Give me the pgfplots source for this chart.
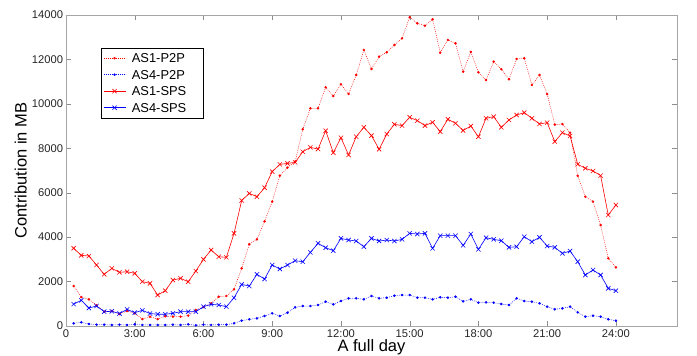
\documentclass[border=0pt]{standalone}
\usepackage{fontspec}
\setmainfont{Liberation Sans}
\usepackage{pgfplots}
\pgfplotsset{compat=1.18}
\pgfplotstableread{
i as1p2p as4p2p as1sps as4sps
1 1800 120 3500 985
2 1300 165 3180 1155
3 1200 90 3150 810
4 930 60 2745 900
5 645 60 2325 645
6 675 45 2595 660
7 540 60 2415 560
8 675 45 2445 750
9 570 75 2370 600
10 310 45 1995 705
11 420 45 1920 560
12 310 45 1395 530
13 440 45 1590 530
14 420 60 2070 570
15 420 45 2145 645
16 470 75 1995 645
17 720 30 2475 645
18 850 60 3000 870
19 1020 45 3420 975
20 1320 60 3120 945
21 1350 60 3090 870
22 1650 120 4170 1270
23 2595 240 5650 1870
24 3680 300 5970 1800
25 3900 345 5820 2325
26 4710 450 6225 2115
27 5600 570 6950 2745
28 6770 450 7275 2565
29 7130 600 7320 2745
30 7400 840 7365 2940
31 8855 900 7845 2895
32 9800 900 8040 3315
33 9800 945 7965 3720
34 10745 1095 8790 3525
35 10355 975 7800 3390
36 10880 1125 8475 3945
37 10445 1245 7700 3870
38 11300 1245 8520 3825
39 12425 1200 8945 3570
40 11570 1350 8570 3945
41 12125 1245 7955 3825
42 12320 1275 8640 3870
43 12650 1365 9080 3825
44 12950 1395 9020 3900
45 13900 1395 9395 4170
46 13625 1275 9245 4140
47 13520 1275 9020 4170
48 13805 1200 9170 3495
49 12305 1290 8750 4065
50 12875 1275 9305 4065
51 12725 1320 9125 4065
52 11450 1110 8800 3630
53 12340 1200 9000 4140
54 11420 1050 8520 3450
55 11075 1065 9350 3975
56 11900 1050 9425 3900
57 11560 990 8945 3840
58 11105 945 9275 3540
59 12020 1245 9500 3570
60 12050 1125 9605 4020
61 10850 1095 9350 3795
62 11300 1020 9095 3990
63 10440 870 9155 3600
64 9065 750 8300 3540
65 9090 795 8705 3270
66 8700 870 8555 3375
67 6760 615 7280 2895
68 5820 420 7100 2295
69 5600 465 6980 2520
70 4545 420 6770 2295
71 3045 300 4995 1695
72 2640 240 5445 1590
}\datatable
\begin{document}
\begin{tikzpicture}
\begin{axis}[
  scale only axis, width=611pt, height=311pt,
  xmin=0, xmax=80, ymin=0, ymax=14000,
  xtick={0,9,18,27,36,45,54,63,72},
  xticklabels={0,3:00,6:00,9:00,12:00,15:00,18:00,21:00,24:00},
  ytick={0,2000,4000,6000,8000,10000,12000,14000},
  scaled y ticks=false,
  /pgf/number format/1000 sep={},
  /pgf/number format/assume math mode=true,
  tick label style={font=\fontsize{11.2}{13}\selectfont, text=black!85},
  yticklabel style={inner xsep=2.7pt},
  xticklabel style={inner ysep=3pt},
  axis line style={black!35, line width=0.8pt},
  major tick style={black!45},
  major tick length=5pt,
  tick align=inside,
  xlabel={A full day}, ylabel={Contribution in MB},
  label style={font=\fontsize{16.5}{19}\selectfont},
  xlabel style={at={(axis description cs:0.5,-0.0836)}, anchor=base},
  ylabel style={at={(axis description cs:-0.0646,0.5)}, anchor=base},
  legend image code/.code={\draw[mark repeat=2,mark phase=2] plot coordinates {(0pt,0pt)(11pt,0pt)(22pt,0pt)};},
  legend cell align=left,
  legend style={at={(axis description cs:0.0568,0.8949)}, anchor=north west,
    draw=black, fill=white, line width=0.5pt,
    inner xsep=2.3pt, inner ysep=2pt,
    font=\fontsize{12.9}{15}\selectfont,
    nodes={inner xsep=0pt, inner ysep=3.75pt, text depth=0pt},
    column sep=6pt, row sep=0pt},
]
\addplot[red, line width=0.5pt, dash pattern=on 0.8pt off 1.2pt, mark=*, mark size=1pt, mark options={solid}] table[x=i, y=as1p2p] {\datatable};
\addlegendentry{AS1-P2P\hspace*{16pt}}
\addplot[blue, line width=0.5pt, dash pattern=on 0.8pt off 1.2pt, mark=*, mark size=1pt, mark options={solid}] table[x=i, y=as4p2p] {\datatable};
\addlegendentry{AS4-P2P}
\addplot[red, line width=0.6pt, mark=x, mark size=3pt] table[x=i, y=as1sps] {\datatable};
\addlegendentry{AS1-SPS}
\addplot[blue, line width=0.6pt, mark=x, mark size=3pt] table[x=i, y=as4sps] {\datatable};
\addlegendentry{AS4-SPS}
\end{axis}
\pgfresetboundingbox
\path[use as bounding box] (-66pt,-30pt) rectangle (631pt,326pt);
\end{tikzpicture}
\end{document}
